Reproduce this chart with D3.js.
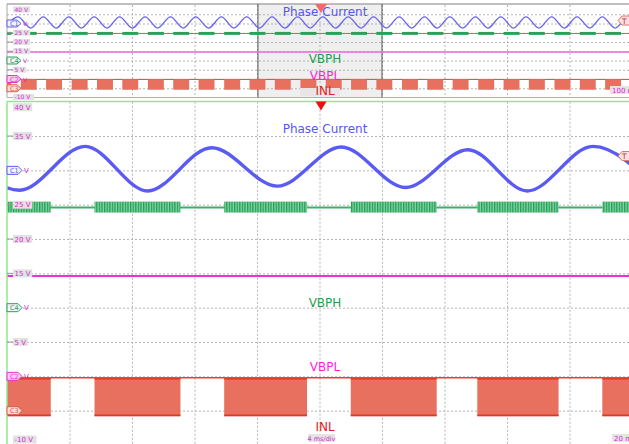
<!DOCTYPE html>
<html>
<head>
<meta charset="utf-8">
<script src="https://cdn.jsdelivr.net/npm/d3@7"></script>
<style>
  body { margin: 0; background: #fff; }
  svg { display: block; font-family: "DejaVu Sans", sans-serif; }
</style>
</head>
<body>
<svg id="scope" width="629" height="444"></svg>
<script>
// time spans (ms) and vertical range (V) of the two panes
var mainTime = [0, 40];        // 4 ms/div
var ovTime = [0, 200];         // overview, 20 ms/div
var zoomWindow = [80.3, 120];  // part of the overview shown below
var volts = [-10, 40];
var voltGrid = [35, 30, 25, 20, 15, 10, 5, 0, -5];
var mainTimeGrid = [4, 8, 12, 16, 20, 24, 28, 32, 36];
var ovTimeGrid = [20, 40, 60, 80, 100, 120, 140, 160, 180];
var mainVoltLabels = [40, 35, 25, 20, 15, 5, -10];
var ovVoltLabels = [40, 25, 20, 15, 5, -10];

// phase current, turning points [ms, V]
var mainPhase = [[-3.2, 33.4], [0.8, 27.1], [5.0, 33.5], [9.0, 27.0], [13.1, 33.3], [17.3, 27.7],
  [21.4, 33.4], [25.5, 27.5], [29.5, 33.0], [33.3, 27.0], [37.5, 33.5], [41.6, 27.2]];
var ovPhase = [[-0.6, 27.5], [3.5, 33.6], [7.6, 27.5], [11.6, 33.6], [15.7, 27.5], [19.8, 33.6],
  [23.8, 27.5], [27.9, 33.6], [32.0, 27.5], [36.0, 33.6], [40.1, 27.5], [44.2, 33.6],
  [48.2, 27.5], [52.3, 33.6], [56.4, 27.5], [60.4, 33.6], [64.5, 27.5], [68.6, 33.6],
  [72.6, 27.5], [76.7, 33.6], [80.8, 27.5], [84.8, 33.6], [88.9, 27.5], [93.0, 33.6],
  [97.0, 27.5], [101.1, 33.6], [105.1, 27.5], [109.2, 33.6], [113.3, 27.5], [117.3, 33.6],
  [121.4, 27.5], [125.5, 33.6], [129.5, 27.5], [133.6, 33.6], [137.7, 27.5], [141.7, 33.6],
  [145.8, 27.5], [149.9, 33.6], [153.9, 27.5], [158.0, 33.6], [162.1, 27.5], [166.1, 33.6],
  [170.2, 27.5], [174.3, 33.6], [178.3, 27.5], [182.4, 33.6], [186.5, 27.5], [190.5, 33.6],
  [194.6, 27.5], [198.7, 33.6], [202.7, 27.5]];

// switching bursts (VBPH chopping / INL low) [start ms, end ms]
var mainBursts = [[-2.5, 2.8], [5.6, 11.1], [13.9, 19.2], [22.0, 27.5], [30.1, 35.3], [38.1, 43.4]];
var ovBursts = [[-3.7, 1.4], [4.4, 9.5], [12.5, 17.6], [20.7, 25.8], [28.8, 33.9], [36.9, 42.0],
  [45.1, 50.2], [53.2, 58.3], [61.3, 66.4], [69.5, 74.6], [77.6, 82.7], [85.7, 90.8],
  [93.9, 99.0], [102.0, 107.1], [110.1, 115.2], [118.2, 123.3], [126.4, 131.5], [134.5, 139.6],
  [142.6, 147.7], [150.8, 155.9], [158.9, 164.0], [167.0, 172.1], [175.2, 180.3], [183.3, 188.4],
  [191.4, 196.5], [199.6, 204.7]];

var vbphLevel = 24.6, vbphBand = [23.85, 25.45];
var vbplLevel = 14.6;
var inlHigh = -0.2, inlLow = -5.8;

var channelTags = [
  {name: "C1", level: 30, unit: true, color: "#5b5bf5"},
  {name: "C4", level: 10, unit: true, color: "#2ca05a"},
  {name: "C2", level: 0, unit: true, color: "#e633cc"},
  {name: "C3", level: -5, unit: false, color: "#e05a48"}
];
var names = ["Phase Current", "VBPH", "VBPL", "INL"];
var nameColors = ["#5656f2", "#1e9e50", "#ff1fd6", "#e02020"];
var mainNameY = [133, 307, 371, 431];
var ovNameY = [16, 63, 80, 95];

var svg = d3.select("#scope");
var left = 7, right = 632;
var labelColor = "#d42ad0";

var xMain = d3.scaleLinear().domain(mainTime).range([left, right]);
var yMain = d3.scaleLinear().domain(volts).range([445, 101.7]);
var xOv = d3.scaleLinear().domain(ovTime).range([left, right]);
var yOv = d3.scaleLinear().domain(volts).range([97.5, 5]);

var defs = svg.append("defs");
defs.append("clipPath").attr("id", "clipMain").append("rect")
  .attr("x", left).attr("y", 101.7).attr("width", right - left).attr("height", 344);
defs.append("clipPath").attr("id", "clipOv").append("rect")
  .attr("x", left).attr("y", 5).attr("width", right - left).attr("height", 92.5);
var hatch = defs.append("pattern").attr("id", "hatch")
  .attr("patternUnits", "userSpaceOnUse").attr("width", 2.6).attr("height", 20);
hatch.append("rect").attr("width", 2.6).attr("height", 20).attr("fill", "#86d2a4");
hatch.append("rect").attr("width", 1.3).attr("height", 20).attr("fill", "#23a055");

// overview zoom window shading
svg.append("rect")
  .attr("x", xOv(zoomWindow[0])).attr("y", 4)
  .attr("width", xOv(zoomWindow[1]) - xOv(zoomWindow[0])).attr("height", 93.5)
  .attr("fill", "#efefef");

var drawGrid = function(x, y, xTicks, yTicks) {
  var top = y.range()[1], bottom = y.range()[0];
  var g = svg.append("g");
  g.append("g").attr("transform", "translate(0," + top + ")")
    .call(d3.axisBottom(x).tickValues(xTicks).tickSize(bottom - top).tickFormat(""));
  g.append("g").attr("transform", "translate(" + left + ",0)")
    .call(d3.axisRight(y).tickValues(yTicks).tickSize(right - left).tickFormat(""));
  g.selectAll(".domain").remove();
  g.selectAll(".tick line")
    .attr("stroke", "#b4b4b4").attr("stroke-width", 1).attr("stroke-dasharray", "2,2");
};
drawGrid(xOv, yOv, ovTimeGrid, voltGrid);
drawGrid(xMain, yMain, mainTimeGrid, voltGrid);

// frames
svg.append("line").attr("x1", left).attr("x2", 629).attr("y1", 4).attr("y2", 4)
  .attr("stroke", "#a8a8a8").attr("stroke-width", 1.5);
svg.append("line").attr("x1", left).attr("x2", 629).attr("y1", 97.5).attr("y2", 97.5)
  .attr("stroke", "#b0b0b0").attr("stroke-width", 1);
svg.append("line").attr("x1", left).attr("x2", left).attr("y1", 4).attr("y2", 97.5)
  .attr("stroke", "#a8a8a8").attr("stroke-width", 1);
[zoomWindow[0], zoomWindow[1]].forEach(function(t) {
  svg.append("line").attr("x1", xOv(t)).attr("x2", xOv(t)).attr("y1", 4).attr("y2", 97.5)
    .attr("stroke", "#555").attr("stroke-width", 1);
});

var drawTraces = function(x, y, clip, phase, bursts, big) {
  var g = svg.append("g").attr("clip-path", "url(#" + clip + ")");

  // INL
  g.append("line").attr("x1", left).attr("x2", right)
    .attr("y1", y(inlHigh)).attr("y2", y(inlHigh))
    .attr("stroke", "#e2432f").attr("stroke-width", big ? 1.5 : 1);
  g.selectAll("rect.inl").data(bursts).enter().append("rect").attr("class", "inl")
    .attr("x", function(d) { return x(d[0]); })
    .attr("width", function(d) { return x(d[1]) - x(d[0]); })
    .attr("y", y(inlHigh)).attr("height", y(inlLow) - y(inlHigh))
    .attr("fill", "#e8705f");
  if (big) {
    g.selectAll("line.inlEdge").data(bursts).enter().append("line").attr("class", "inlEdge")
      .attr("x1", function(d) { return x(d[0]); }).attr("x2", function(d) { return x(d[1]); })
      .attr("y1", y(inlLow) - 0.8).attr("y2", y(inlLow) - 0.8)
      .attr("stroke", "#dc3a28").attr("stroke-width", 1.6);
    g.selectAll("line.inlTop").data(bursts).enter().append("line").attr("class", "inlTop")
      .attr("x1", function(d) { return x(d[0]); }).attr("x2", function(d) { return x(d[1]); })
      .attr("y1", y(inlHigh) + 1).attr("y2", y(inlHigh) + 1)
      .attr("stroke", "#dc3a28").attr("stroke-width", 1.6);
  }

  // VBPL
  g.append("line").attr("x1", left).attr("x2", right)
    .attr("y1", y(vbplLevel)).attr("y2", y(vbplLevel))
    .attr("stroke", big ? "#f02ed8" : "#ec6ae0").attr("stroke-width", big ? 2 : 1.5);

  // VBPH
  g.append("line").attr("x1", left).attr("x2", right)
    .attr("y1", y(vbphLevel)).attr("y2", y(vbphLevel))
    .attr("stroke", "#3cb06a").attr("stroke-width", big ? 2 : 1.2);
  g.selectAll("rect.vbph").data(bursts).enter().append("rect").attr("class", "vbph")
    .attr("x", function(d) { return x(d[0]); })
    .attr("width", function(d) { return x(d[1]) - x(d[0]); })
    .attr("y", y(vbphBand[1])).attr("height", y(vbphBand[0]) - y(vbphBand[1]))
    .attr("fill", big ? "url(#hatch)" : "#2aa058");

  // phase current
  var line = d3.line()
    .x(function(d) { return x(d[0]); })
    .y(function(d) { return y(d[1]); })
    .curve(d3.curveMonotoneX);
  g.append("path").datum(phase).attr("d", line)
    .attr("fill", "none").attr("stroke", big ? "#5a5af4" : "#6464f0")
    .attr("stroke-width", big ? 3.4 : 1.3).attr("stroke-linejoin", "round");
};
drawTraces(xOv, yOv, "clipOv", ovPhase, ovBursts, false);
drawTraces(xMain, yMain, "clipMain", mainPhase, mainBursts, true);

// channel names
var drawNames = function(ys, cx) {
  svg.selectAll(null).data(names).enter().append("text")
    .attr("x", cx).attr("y", function(d, i) { return ys[i]; })
    .attr("text-anchor", "middle").attr("font-size", 12)
    .attr("fill", function(d, i) { return nameColors[i]; })
    .text(function(d) { return d; });
};
// small timebase box behind the overview INL label
svg.append("rect").attr("x", 300).attr("y", 88).attr("width", 40).attr("height", 8)
  .attr("fill", "#e9e4e6");
drawNames(ovNameY, 325);
drawNames(mainNameY, 325);

// trigger markers
svg.append("path").attr("d", "M315,4L327,4L321,13Z").attr("fill", "#f26a6a");

// left level labels
var drawLevels = function(y, labels, big) {
  var top = y.range()[1], bottom = y.range()[0];
  var h = big ? 8 : 6, fs = big ? 7 : 6;
  var lowest = big ? bottom - h / 2 - 1.5 : bottom - 0.5;
  svg.selectAll(null).data(labels).enter().append("g").each(function(v) {
    var g = d3.select(this);
    var cy = Math.max(top + h / 2 + 1.5, Math.min(lowest, y(v)));
    if (cy === y(v)) {
      g.append("line").attr("x1", left).attr("x2", 13).attr("y1", cy).attr("y2", cy)
        .attr("stroke", "#999").attr("stroke-width", 1);
    }
    var label = v + " V";
    g.append("rect").attr("x", 13).attr("y", cy - h / 2)
      .attr("width", label.length * (big ? 4.3 : 3.8) + 2).attr("height", h)
      .attr("fill", "#e2e2e2");
    g.append("text").attr("x", 14.5).attr("y", cy + fs * 0.36)
      .attr("font-size", fs).attr("fill", labelColor).text(label);
  });
  svg.selectAll(null).data(channelTags).enter().append("g").each(function(d) {
    var g = d3.select(this);
    var cy = y(d.level), hh = big ? 4 : 3.5, w = big ? 15 : 14;
    g.append("path")
      .attr("d", "M" + left + "," + (cy - hh) + "L" + (left + w - 4) + "," + (cy - hh) +
        "L" + (left + w) + "," + cy + "L" + (left + w - 4) + "," + (cy + hh) +
        "L" + left + "," + (cy + hh) + "Z")
      .attr("fill", d.name === "C2" ? "#f7c8f0" : (d.name === "C3" ? "#f4dcd8" : "#f2f2f8"))
      .attr("stroke", d.color).attr("stroke-width", 1);
    g.append("text").attr("x", left + 3).attr("y", cy + 2.5)
      .attr("font-size", 6.5).attr("fill", d.color).text(d.name);
    if (d.unit) {
      g.append("text").attr("x", left + w + 2).attr("y", cy + 2.5)
        .attr("font-size", fs).attr("fill", labelColor).text("V");
    }
  });
};
drawLevels(yOv, ovVoltLabels, false);

// main pane frame (drawn over the overview's bottom label)
svg.append("rect").attr("x", 0).attr("y", 100.8).attr("width", 629).attr("height", 0.1).attr("fill", "none");
svg.append("line").attr("x1", left).attr("x2", 629).attr("y1", 101.5).attr("y2", 101.5)
  .attr("stroke", "#8ee88e").attr("stroke-width", 1.5);
svg.append("line").attr("x1", left).attr("x2", left).attr("y1", 101.5).attr("y2", 444)
  .attr("stroke", "#8ee88e").attr("stroke-width", 1.5);
svg.append("path").attr("d", "M315.5,101.5L326.5,101.5L321,110.5Z").attr("fill", "#e81212");
drawLevels(yMain, mainVoltLabels, true);

// trigger level tags on the right
var drawT = function(cy) {
  svg.append("path")
    .attr("d", "M618," + cy + "L622," + (cy - 4.5) + "L632," + (cy - 4.5) + "L632," + (cy + 4.5) + "L622," + (cy + 4.5) + "Z")
    .attr("fill", "#fbe0e0").attr("stroke", "#e07676").attr("stroke-width", 1);
  svg.append("text").attr("x", 622).attr("y", cy + 3).attr("font-size", 7.5)
    .attr("fill", "#c83030").text("T");
};
drawT(20.5);
drawT(156);

// timebase readouts
svg.append("rect").attr("x", 308).attr("y", 434).attr("width", 27).attr("height", 8).attr("fill", "#e4e4e4");
svg.append("text").attr("x", 321.5).attr("y", 440.5).attr("text-anchor", "middle")
  .attr("font-size", 6.5).attr("fill", labelColor).text("4 ms/div");
svg.append("rect").attr("x", 612).attr("y", 434).attr("width", 20).attr("height", 8).attr("fill", "#e4e4e4");
svg.append("text").attr("x", 614).attr("y", 440.5)
  .attr("font-size", 7).attr("fill", labelColor).text("20 ms");
svg.append("rect").attr("x", 610).attr("y", 86).attr("width", 22).attr("height", 8).attr("fill", "#e4e4e4");
svg.append("text").attr("x", 612).attr("y", 92.5)
  .attr("font-size", 7).attr("fill", labelColor).text("100 ms");
</script>
</body>
</html>
